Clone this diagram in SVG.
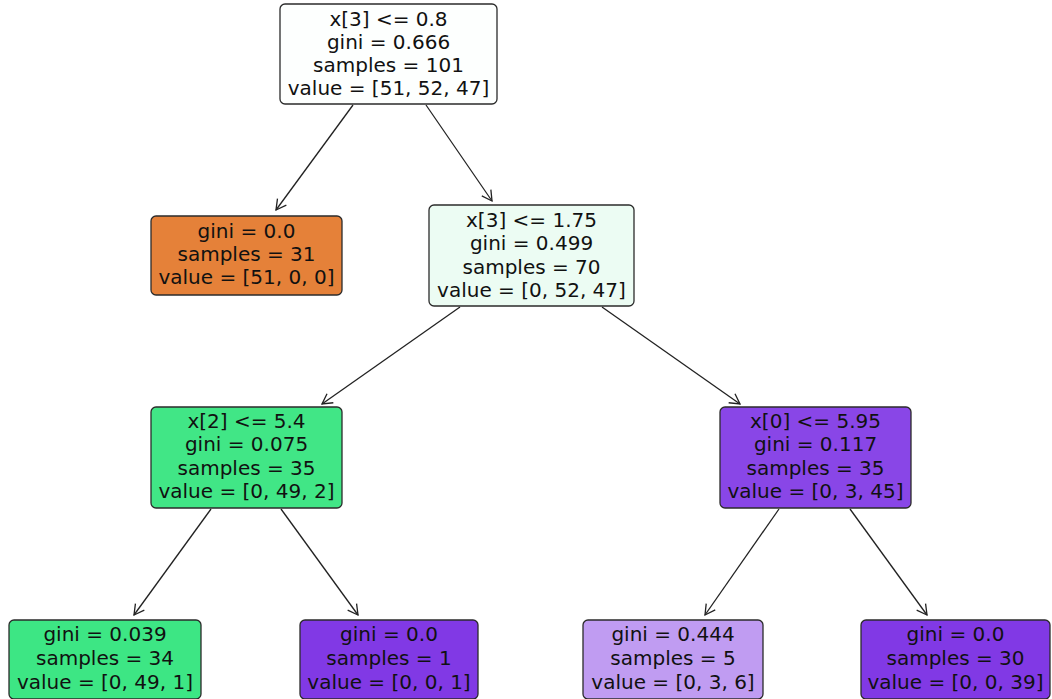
<svg xmlns="http://www.w3.org/2000/svg" width="1052" height="699" viewBox="0 0 1052 699">
  <style>
    .box { stroke: #2b2b2b; stroke-width: 1.3; }
    .lbl { font-family: "DejaVu Sans", sans-serif; font-size: 20px; fill: #111; text-anchor: middle; }
    .edge { stroke: #222; stroke-width: 1.3; fill: none; marker-end: url(#head); }
  </style>
  <defs>
    <marker id="head" markerUnits="userSpaceOnUse" markerWidth="16" markerHeight="16" refX="12" refY="8" orient="auto" viewBox="0 0 16 16">
      <path d="M2,2.5 L12,8 L2,13.5" fill="none" stroke="#222" stroke-width="1.3"/>
    </marker>
  </defs>
  <rect width="1052" height="699" fill="#ffffff"/>

  <g id="edges">
    <line class="edge" x1="353" y1="105" x2="276" y2="210"/>
    <line class="edge" x1="426" y1="105" x2="492" y2="201"/>
    <line class="edge" x1="460" y1="307" x2="322" y2="404"/>
    <line class="edge" x1="602" y1="307" x2="740" y2="404"/>
    <line class="edge" x1="211" y1="509" x2="134" y2="615"/>
    <line class="edge" x1="281" y1="509" x2="358" y2="615"/>
    <line class="edge" x1="779" y1="509" x2="705" y2="615"/>
    <line class="edge" x1="850" y1="509" x2="927" y2="615"/>
  </g>

  <g id="node0">
    <rect class="box" x="280" y="4" width="217" height="100" rx="5" fill="#fdfffe"/>
    <text class="lbl" x="388.5" y="26">x[3] &lt;= 0.8</text>
    <text class="lbl" x="388.5" y="49">gini = 0.666</text>
    <text class="lbl" x="388.5" y="72">samples = 101</text>
    <text class="lbl" x="388.5" y="95">value = [51, 52, 47]</text>
  </g>

  <g id="node1">
    <rect class="box" x="151" y="216" width="191" height="79" rx="5" fill="#e58139"/>
    <text class="lbl" x="246.5" y="238">gini = 0.0</text>
    <text class="lbl" x="246.5" y="261">samples = 31</text>
    <text class="lbl" x="246.5" y="284">value = [51, 0, 0]</text>
  </g>

  <g id="node2">
    <rect class="box" x="429" y="205" width="205" height="101" rx="5" fill="#ecfcf3"/>
    <text class="lbl" x="531.5" y="227">x[3] &lt;= 1.75</text>
    <text class="lbl" x="531.5" y="250">gini = 0.499</text>
    <text class="lbl" x="531.5" y="274">samples = 70</text>
    <text class="lbl" x="531.5" y="297">value = [0, 52, 47]</text>
  </g>

  <g id="node3">
    <rect class="box" x="151" y="407" width="191" height="101" rx="5" fill="#41e686"/>
    <text class="lbl" x="246.5" y="428">x[2] &lt;= 5.4</text>
    <text class="lbl" x="246.5" y="451">gini = 0.075</text>
    <text class="lbl" x="246.5" y="475">samples = 35</text>
    <text class="lbl" x="246.5" y="498">value = [0, 49, 2]</text>
  </g>

  <g id="node4">
    <rect class="box" x="720" y="407" width="191" height="101" rx="5" fill="#8946e7"/>
    <text class="lbl" x="815.5" y="428">x[0] &lt;= 5.95</text>
    <text class="lbl" x="815.5" y="451">gini = 0.117</text>
    <text class="lbl" x="815.5" y="475">samples = 35</text>
    <text class="lbl" x="815.5" y="498">value = [0, 3, 45]</text>
  </g>

  <g id="node5">
    <rect class="box" x="9" y="620" width="192" height="79" rx="5" fill="#3de684"/>
    <text class="lbl" x="105" y="641">gini = 0.039</text>
    <text class="lbl" x="105" y="665">samples = 34</text>
    <text class="lbl" x="105" y="689">value = [0, 49, 1]</text>
  </g>

  <g id="node6">
    <rect class="box" x="300" y="620" width="178" height="79" rx="5" fill="#8139e5"/>
    <text class="lbl" x="389" y="641">gini = 0.0</text>
    <text class="lbl" x="389" y="665">samples = 1</text>
    <text class="lbl" x="389" y="689">value = [0, 0, 1]</text>
  </g>

  <g id="node7">
    <rect class="box" x="583" y="620" width="180" height="79" rx="5" fill="#c09cf2"/>
    <text class="lbl" x="673" y="641">gini = 0.444</text>
    <text class="lbl" x="673" y="665">samples = 5</text>
    <text class="lbl" x="673" y="689">value = [0, 3, 6]</text>
  </g>

  <g id="node8">
    <rect class="box" x="861" y="620" width="189" height="79" rx="5" fill="#8139e5"/>
    <text class="lbl" x="955.5" y="641">gini = 0.0</text>
    <text class="lbl" x="955.5" y="665">samples = 30</text>
    <text class="lbl" x="955.5" y="689">value = [0, 0, 39]</text>
  </g>
</svg>
